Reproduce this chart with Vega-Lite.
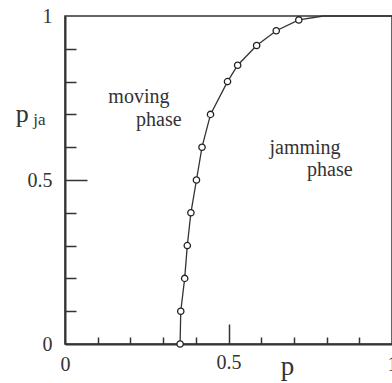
{
  "$schema": "https://vega.github.io/schema/vega-lite/v6.json",
  "width": 327,
  "height": 328,
  "autosize": {"type": "none"},
  "padding": {"left": 65, "top": 16, "right": 0, "bottom": 39},
  "background": "white",
  "config": {
    "view": {"stroke": "#333", "strokeWidth": 1.5},
    "font": "Liberation Serif"
  },
  "datasets": {
    "points": [
      {"p": 0.352, "pja": 0.0},
      {"p": 0.354, "pja": 0.1},
      {"p": 0.366, "pja": 0.2},
      {"p": 0.374, "pja": 0.3},
      {"p": 0.385, "pja": 0.4},
      {"p": 0.402, "pja": 0.5},
      {"p": 0.419, "pja": 0.6},
      {"p": 0.445, "pja": 0.7},
      {"p": 0.497, "pja": 0.8},
      {"p": 0.528, "pja": 0.85},
      {"p": 0.586, "pja": 0.91},
      {"p": 0.646, "pja": 0.955},
      {"p": 0.715, "pja": 0.988}
    ],
    "curve": [
      {"p": 0.352, "pja": 0.0},
      {"p": 0.354, "pja": 0.1},
      {"p": 0.366, "pja": 0.2},
      {"p": 0.374, "pja": 0.3},
      {"p": 0.385, "pja": 0.4},
      {"p": 0.402, "pja": 0.5},
      {"p": 0.419, "pja": 0.6},
      {"p": 0.445, "pja": 0.7},
      {"p": 0.497, "pja": 0.8},
      {"p": 0.528, "pja": 0.85},
      {"p": 0.586, "pja": 0.91},
      {"p": 0.646, "pja": 0.955},
      {"p": 0.715, "pja": 0.988},
      {"p": 0.79, "pja": 1.0},
      {"p": 1.0, "pja": 1.0}
    ],
    "phases": [
      {"p": 0.226, "pja": 0.753, "label": "moving"},
      {"p": 0.287, "pja": 0.683, "label": "phase"},
      {"p": 0.734, "pja": 0.597, "label": "jamming"},
      {"p": 0.81, "pja": 0.529, "label": "phase"}
    ],
    "ytitle": [{"p": -0.131, "pja": 0.677, "label": "p"}],
    "ysub": [{"p": -0.078, "pja": 0.668, "label": "ja"}]
  },
  "layer": [
    {
      "data": {"name": "curve"},
      "mark": {"type": "line", "color": "#333", "strokeWidth": 1.3},
      "encoding": {
        "x": {
          "field": "p", "type": "quantitative",
          "scale": {"domain": [0, 1], "nice": false, "zero": false},
          "axis": {
            "values": [0, 0.1, 0.2, 0.3, 0.4, 0.5, 0.6, 0.7, 0.8, 0.9, 1],
            "tickCount": 20,
            "labelExpr": "datum.value == 0 || datum.value == 0.5 || datum.value == 1 ? format(datum.value, '.1~f') : ''",
            "labelFont": "Liberation Serif",
            "labelFontSize": 20,
            "labelColor": "#333",
            "labelPadding": {"condition": {"test": "datum.value == 0.5", "value": 28}, "value": 17},
            "labelFlush": false,
            "labelOverlap": false,
            "grid": false,
            "domainColor": "#333",
            "domainWidth": 2,
            "tickColor": "#333",
            "tickWidth": 1.5,
            "tickSize": {"condition": {"test": "datum.value == 0.5", "value": -20}, "value": -7},
            "tickOpacity": {"condition": {"test": "datum.value == 0 || datum.value == 1", "value": 0}, "value": 1},
            "title": "p",
            "titleFont": "Liberation Serif",
            "titleFontSize": 27,
            "titleFontWeight": "normal",
            "titleColor": "#333",
            "titleX": 222,
            "titleY": 30,
            "titleBaseline": "alphabetic",
            "titleAlign": "center"
          }
        },
        "y": {
          "field": "pja", "type": "quantitative",
          "scale": {"domain": [0, 1], "nice": false, "zero": false},
          "axis": {
            "values": [0, 0.1, 0.2, 0.3, 0.4, 0.5, 0.6, 0.7, 0.8, 0.9, 1],
            "tickCount": 20,
            "labelExpr": "datum.value == 0 || datum.value == 0.5 || datum.value == 1 ? format(datum.value, '.1~f') : ''",
            "labelFont": "Liberation Serif",
            "labelFontSize": 20,
            "labelColor": "#333",
            "labelPadding": {"condition": {"test": "datum.value == 0.5", "value": 35}, "value": 24},
            "labelFlush": false,
            "labelOverlap": false,
            "grid": false,
            "domainColor": "#333",
            "domainWidth": 2,
            "tickColor": "#333",
            "tickWidth": 1.5,
            "tickSize": {"condition": {"test": "datum.value == 0.5", "value": -22}, "value": -11},
            "tickOpacity": {"condition": {"test": "datum.value == 0 || datum.value == 1", "value": 0}, "value": 1},
            "title": null
          }
        }
      }
    },
    {
      "data": {"name": "points"},
      "mark": {"type": "point", "shape": "circle", "filled": false, "fill": "white", "fillOpacity": 1, "stroke": "#222", "strokeWidth": 1.3, "size": 40, "opacity": 1},
      "encoding": {
        "x": {"field": "p", "type": "quantitative"},
        "y": {"field": "pja", "type": "quantitative"}
      }
    },
    {
      "data": {"name": "phases"},
      "mark": {"type": "text", "font": "Liberation Serif", "fontSize": 20, "color": "#333", "align": "center", "baseline": "middle"},
      "encoding": {
        "x": {"field": "p", "type": "quantitative"},
        "y": {"field": "pja", "type": "quantitative"},
        "text": {"field": "label"}
      }
    },
    {
      "data": {"name": "ytitle"},
      "mark": {"type": "text", "font": "Liberation Serif", "fontSize": 26, "color": "#333", "align": "center", "baseline": "alphabetic", "clip": false},
      "encoding": {
        "x": {"field": "p", "type": "quantitative"},
        "y": {"field": "pja", "type": "quantitative"},
        "text": {"field": "label"}
      }
    },
    {
      "data": {"name": "ysub"},
      "mark": {"type": "text", "font": "Liberation Serif", "fontSize": 17, "color": "#333", "align": "center", "baseline": "alphabetic", "clip": false},
      "encoding": {
        "x": {"field": "p", "type": "quantitative"},
        "y": {"field": "pja", "type": "quantitative"},
        "text": {"field": "label"}
      }
    }
  ]
}
